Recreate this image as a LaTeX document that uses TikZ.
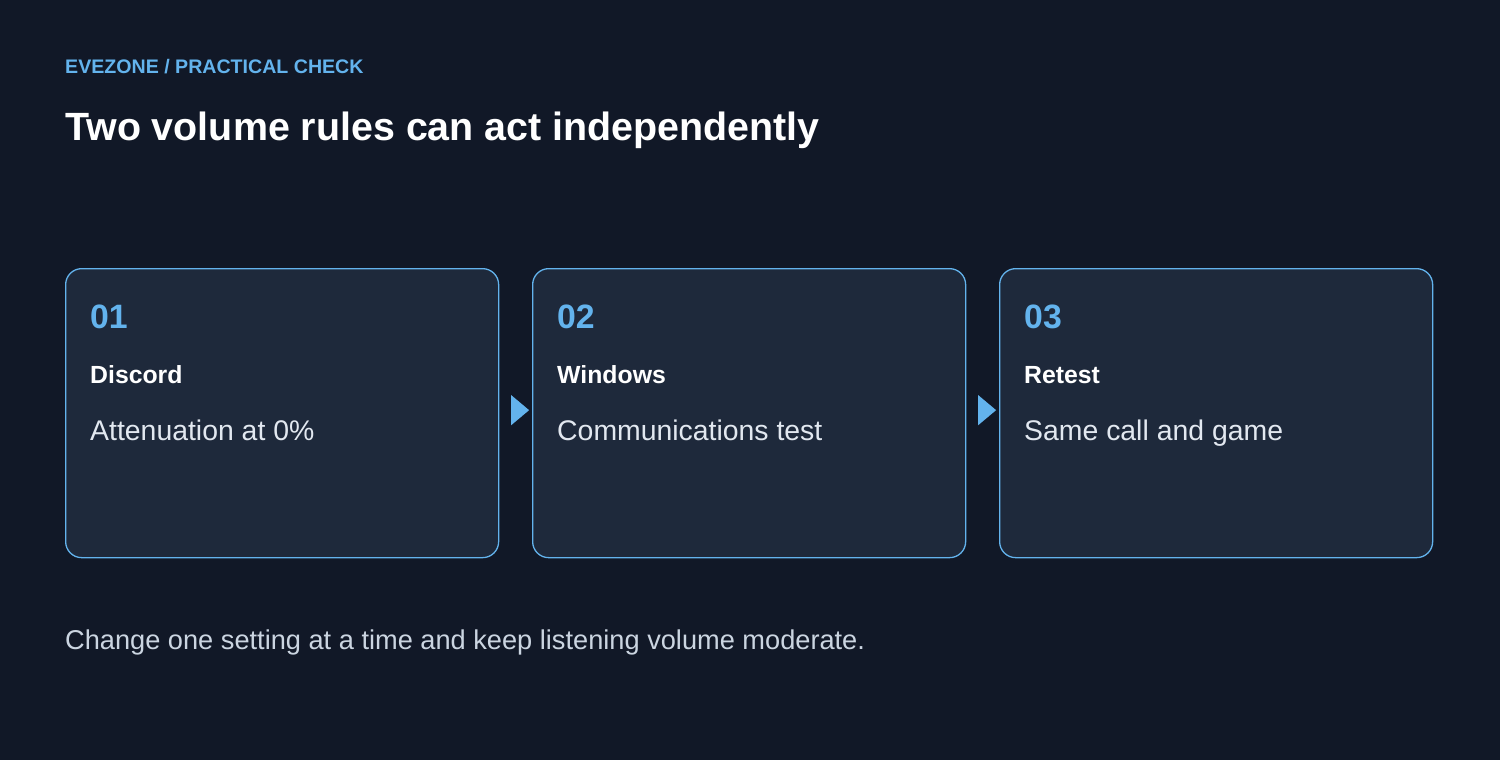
\documentclass[tikz,border=0pt]{standalone}
\usepackage{fontspec}
\setmainfont{Liberation Sans}
\usetikzlibrary{shapes.geometric, positioning, calc}

\definecolor{bgdark}{HTML}{111827}
\definecolor{cardfill}{HTML}{1E293B}
\definecolor{accent}{HTML}{63B3ED}
\definecolor{bodytext}{HTML}{E2E8F0}
\definecolor{foottext}{HTML}{CBD5E1}

\begin{document}
\begin{tikzpicture}[
    x=1pt, y=-1pt,
    node distance=32.7pt,
    card/.style={rectangle, draw=accent, line width=1.3pt, fill=cardfill, minimum width=433pt, minimum height=289pt, rounded corners=16pt, inner sep=0pt},
    stepnum/.style={anchor=base west, inner sep=0pt, text=accent, font=\fontsize{33.8}{38}\selectfont\bfseries},
    steptitle/.style={anchor=base west, inner sep=0pt, text=white, font=\fontsize{24.8}{29}\selectfont\bfseries},
    stepbody/.style={anchor=base west, inner sep=0pt, text=bodytext, font=\fontsize{28.4}{33}\selectfont},
    flow/.style={isosceles triangle, isosceles triangle apex angle=80, fill=accent, inner sep=0pt, minimum height=18pt, minimum width=30pt},
]
\fill[bgdark] (0,0) rectangle (1500,760);
\useasboundingbox (0,0) rectangle (1500,760);

% header
\node[anchor=base west, inner sep=0pt, text=accent, font=\fontsize{19.6}{23}\selectfont\bfseries] (eyebrow) at (65,74) {EVEZONE / PRACTICAL CHECK};
\node[anchor=base west, inner sep=0pt, text=white, font=\fontsize{39.4}{44}\selectfont\bfseries] (title) at (65,140) {Two volume rules can act independently};

% steps
\node[card, anchor=north west] (c1) at (65,268) {};
\node[card, right=of c1] (c2) {};
\node[card, right=of c2] (c3) {};

\foreach \c/\n/\t/\b in {c1/01/Discord/Attenuation at 0\%, c2/02/Windows/Communications test, c3/03/Retest/Same call and game} {
  \node[stepnum] (\c-num) at ($(\c.north west)+(25,60)$) {\n};
  \node[steptitle] (\c-title) at ($(\c.north west)+(25,115)$) {\t};
  \node[stepbody] (\c-body) at ($(\c.north west)+(25,172)$) {\b};
}

\path (c1.east) -- node[flow, xshift=2.5pt, yshift=3pt] (f1) {} (c2.west);
\path (c2.east) -- node[flow, xshift=2.5pt, yshift=3pt] (f2) {} (c3.west);

% footer
\node[anchor=base west, inner sep=0pt, text=foottext, font=\fontsize{27.2}{31}\selectfont] (note) at (65,649) {Change one setting at a time and keep listening volume moderate.};
\end{tikzpicture}
\end{document}
